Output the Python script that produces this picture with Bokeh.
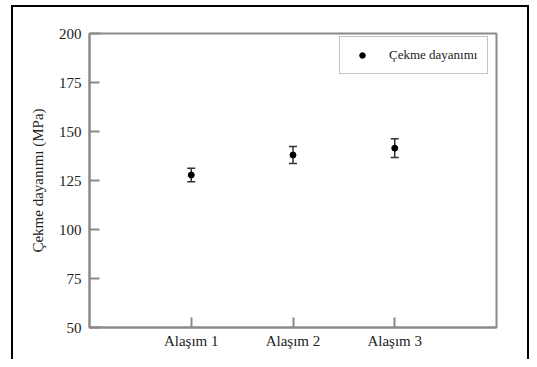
from bokeh.plotting import figure
from bokeh.models import (ColumnDataSource, FactorRange, Range1d, FixedTicker, Whisker, TeeHead,
                          Legend, LegendItem)
from bokeh.embed import file_html
from bokeh.resources import INLINE

alloys = ["Alaşım 1", "Alaşım 2", "Alaşım 3"]
strength = [127.8, 138.0, 141.5]
error = [3.5, 4.3, 4.8]
y_ticks = [50, 75, 100, 125, 150, 175, 200]
series_name = "Çekme dayanımı"
y_title = "Çekme dayanımı (MPa)"

src = ColumnDataSource(dict(
    alloy=alloys,
    value=strength,
    upper=[v + e for v, e in zip(strength, error)],
    lower=[v - e for v, e in zip(strength, error)],
))

FONT = "Liberation Serif"
AX = "#8a8a8a"
TXT = "#222222"

p = figure(width=529, height=359,
           x_range=FactorRange(factors=alloys, range_padding=0.5, range_padding_units="absolute"),
           y_range=Range1d(50, 200),
           output_backend="svg", toolbar_location=None,
           min_border_left=89, min_border_right=33, min_border_top=33, min_border_bottom=32)

# outer black frame of the picture (left, top, right), drawn as inset shadows behind the canvas
p.styles = {
    "background-color": "white",
    "box-shadow": ("inset 11px 0 0 0 white, inset 0 5px 0 0 white, "
                   "inset 13px 0 0 0 black, inset 0 7px 0 0 black, inset -2px 0 0 0 black"),
}

p.xgrid.visible = False
p.ygrid.visible = False
p.outline_line_color = AX
p.outline_line_width = 2
p.background_fill_color = "white"
p.border_fill_color = None

for ax in (p.xaxis[0], p.yaxis[0]):
    ax.axis_line_color = AX
    ax.axis_line_width = 2
    ax.major_tick_line_color = AX
    ax.major_tick_line_width = 2
    ax.major_tick_in = 10
    ax.major_tick_out = 0
    ax.minor_tick_line_color = None
    ax.major_label_text_font = FONT
    ax.major_label_text_font_size = "15px"
    ax.major_label_text_color = TXT
    ax.axis_label_text_font = FONT
    ax.axis_label_text_font_size = "15px"
    ax.axis_label_text_font_style = "normal"
    ax.axis_label_text_color = TXT

p.yaxis.ticker = FixedTicker(ticks=y_ticks)
p.yaxis.major_label_standoff = 8
p.yaxis.axis_label = y_title
p.yaxis.axis_label_standoff = 10
p.xaxis.major_label_standoff = 5

wh = Whisker(base="alloy", upper="upper", lower="lower", source=src,
             line_color="#333333", line_width=1.5,
             upper_head=TeeHead(size=8, line_color="#333333", line_width=1.5),
             lower_head=TeeHead(size=8, line_color="#333333", line_width=1.5))
p.add_layout(wh)

r = p.scatter(x="alloy", y="value", source=src, size=6, color="black")

legend = Legend(items=[LegendItem(label=series_name, renderers=[r])],
                location=(250, 253), padding=10, margin=0, spacing=0,
                glyph_width=24, glyph_height=14, label_height=14, label_standoff=15,
                label_text_font=FONT, label_text_font_size="13px", label_text_color=TXT,
                border_line_color=AX, border_line_width=1.5, background_fill_alpha=1.0)
p.add_layout(legend)

open("out.html", "w").write(file_html(p, INLINE))
